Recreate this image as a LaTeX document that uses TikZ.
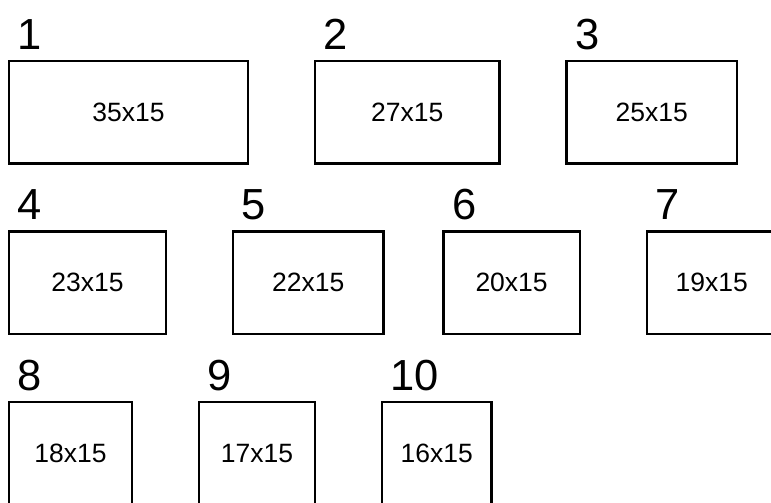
\documentclass[tikz,border=0pt]{standalone}
\usepackage{fontspec}
\setmainfont{Liberation Sans}
\usetikzlibrary{positioning}

\begin{document}
\begin{tikzpicture}[x=1pt, y=-1pt, node distance=67pt, every node/.style={font=\fontsize{26.5}{30}\selectfont}]
    \tikzstyle{box}=[draw, line width=2.4pt, outer sep=0pt, inner sep=0pt,
                     minimum height=102.5pt]
    \tikzstyle{num}=[anchor=base west, inner sep=0pt,
                     font=\fontsize{43.5}{48}\selectfont]

    \useasboundingbox (0,0) rectangle (771,503);

    % first row
    \node[box, minimum width=239pt, anchor=north west] (box1) at (9,61) {35x15};
    \node[box, minimum width=184.4pt, right=of box1] (box2) {27x15};
    \node[box, minimum width=170.8pt, right=of box2] (box3) {25x15};

    % second row
    \node[box, minimum width=157pt, below=68pt of box1.south west, anchor=north west] (box4) {23x15};
    \node[box, minimum width=150.3pt, right=of box4] (box5) {22x15};
    \node[box, minimum width=136.6pt, right=60pt of box5] (box6) {20x15};
    \node[box, minimum width=129.8pt, right=of box6] (box7) {19x15};

    % third row
    \node[box, minimum width=122.9pt, below=68pt of box4.south west, anchor=north west] (box8) {18x15};
    \node[box, minimum width=116.1pt, right=of box8] (box9) {17x15};
    \node[box, minimum width=109.3pt, right=of box9] (box10) {16x15};

    % numbers
    \foreach \i in {1,...,10}
        \node[num] (num\i) at ([xshift=8.5pt, yshift=12pt]box\i.north west) {\i};

\end{tikzpicture}
\end{document}
